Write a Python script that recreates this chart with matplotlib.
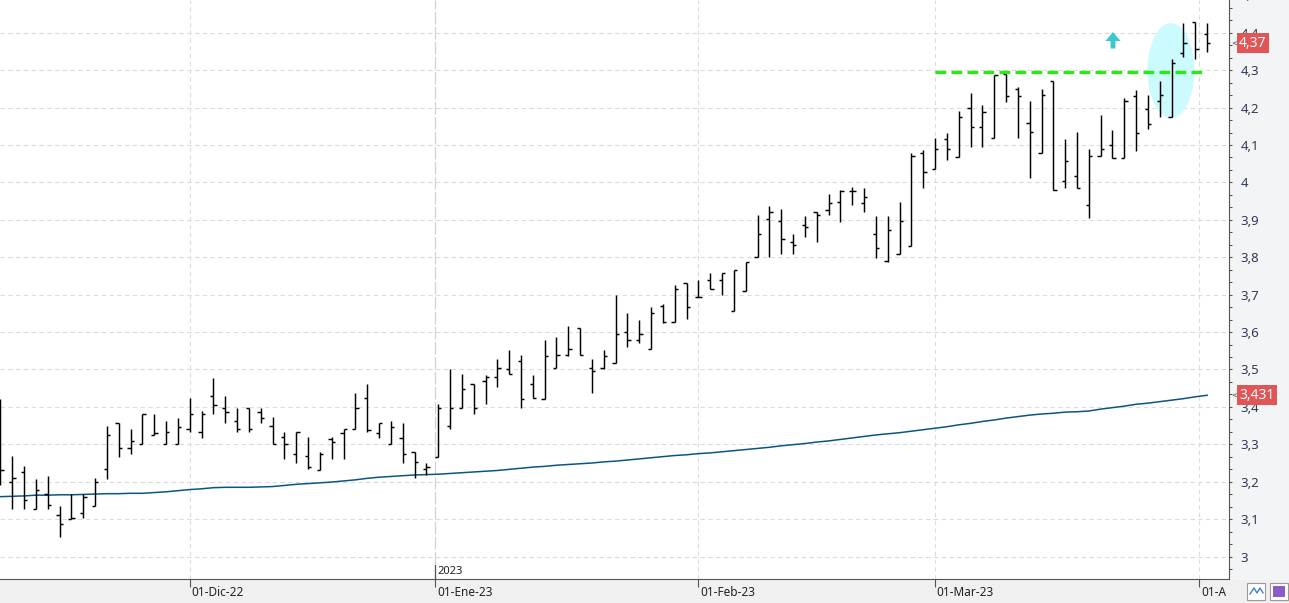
import numpy as np
import matplotlib
matplotlib.use("Agg")
import matplotlib.pyplot as plt
from matplotlib.patches import Ellipse, Rectangle
from matplotlib.ticker import MultipleLocator, FixedLocator, FuncFormatter
import matplotlib.transforms as mtransforms

# daily bars, 09-Nov-22 .. 03-Apr-23 (one entry per session)
opens = [3.30, 3.20, 3.225, 3.128, 3.168, 3.11, 3.099, 3.115, 3.134, 3.235,
         3.358, 3.29, 3.30, 3.324, 3.30, 3.30, 3.34, 3.334, 3.43, 3.396,
         3.361, 3.396, 3.385, 3.35, 3.32, 3.275, 3.27, 3.23, 3.313, 3.329,
         3.34, 3.425, 3.329, 3.30, 3.316, 3.28, 3.235, 3.267, 3.35, 3.396,
         3.46, 3.47, 3.481, 3.50, 3.524, 3.46, 3.42, 3.505, 3.54, 3.61,
         3.505, 3.505, 3.516, 3.599, 3.58, 3.556, 3.671, 3.628, 3.73, 3.693,
         3.74, 3.74, 3.655, 3.711, 3.80, 3.901, 3.896, 3.84, 3.885, 3.92,
         3.925, 3.949, 3.976, 3.944, 3.861, 3.789, 3.81, 3.829, 4.08, 4.035,
         4.115, 4.067, 4.20, 4.147, 4.12, 4.29, 4.251, 4.16, 4.08, 4.27,
         4.005, 4.016, 3.941, 4.07, 4.099, 4.064, 4.23, 4.195, 4.217, 4.174,
         4.345, 4.428, 4.396]
highs = [3.42, 3.27, 3.243, 3.206, 3.214, 3.134, 3.168, 3.168, 3.209, 3.35,
         3.358, 3.34, 3.382, 3.38, 3.361, 3.369, 3.425, 3.388, 3.476, 3.43,
         3.396, 3.396, 3.396, 3.372, 3.334, 3.334, 3.32, 3.28, 3.32, 3.342,
         3.436, 3.46, 3.356, 3.361, 3.356, 3.28, 3.249, 3.409, 3.50, 3.489,
         3.46, 3.484, 3.529, 3.551, 3.54, 3.484, 3.58, 3.586, 3.615, 3.61,
         3.529, 3.551, 3.70, 3.65, 3.631, 3.666, 3.674, 3.725, 3.73, 3.74,
         3.757, 3.759, 3.767, 3.786, 3.914, 3.936, 3.93, 3.861, 3.909, 3.92,
         3.97, 3.98, 3.989, 3.984, 3.909, 3.909, 3.949, 4.08, 4.086, 4.12,
         4.131, 4.19, 4.24, 4.206, 4.286, 4.291, 4.254, 4.219, 4.251, 4.27,
         4.115, 4.136, 4.09, 4.179, 4.139, 4.225, 4.246, 4.235, 4.27, 4.33,
         4.425, 4.428, 4.425]
lows = [3.19, 3.126, 3.128, 3.126, 3.128, 3.051, 3.099, 3.102, 3.134, 3.206,
        3.267, 3.275, 3.30, 3.324, 3.30, 3.30, 3.334, 3.318, 3.38, 3.358,
        3.332, 3.334, 3.356, 3.30, 3.262, 3.251, 3.235, 3.23, 3.262, 3.262,
        3.34, 3.334, 3.316, 3.30, 3.251, 3.211, 3.219, 3.265, 3.34, 3.396,
        3.382, 3.409, 3.452, 3.489, 3.396, 3.425, 3.42, 3.505, 3.535, 3.54,
        3.436, 3.50, 3.516, 3.561, 3.572, 3.556, 3.623, 3.628, 3.634, 3.693,
        3.714, 3.70, 3.655, 3.711, 3.80, 3.802, 3.81, 3.81, 3.853, 3.842,
        3.914, 3.893, 3.941, 3.922, 3.797, 3.786, 3.81, 3.829, 3.984, 4.035,
        4.061, 4.067, 4.096, 4.096, 4.12, 4.214, 4.118, 4.013, 4.08, 3.981,
        3.984, 3.984, 3.906, 4.07, 4.064, 4.064, 4.083, 4.144, 4.176, 4.174,
        4.334, 4.331, 4.348]
closes = [3.23, 3.209, 3.15, 3.179, 3.139, 3.086, 3.104, 3.16, 3.198, 3.324,
          3.289, 3.31, 3.382, 3.33, 3.334, 3.345, 3.38, 3.38, 3.404, 3.385,
          3.34, 3.34, 3.369, 3.30, 3.30, 3.334, 3.24, 3.275, 3.305, 3.342,
          3.396, 3.337, 3.356, 3.345, 3.275, 3.254, 3.24, 3.396, 3.396, 3.449,
          3.396, 3.479, 3.505, 3.489, 3.42, 3.425, 3.535, 3.54, 3.556, 3.54,
          3.495, 3.535, 3.594, 3.58, 3.594, 3.65, 3.628, 3.714, 3.668, 3.693,
          3.714, 3.759, 3.765, 3.786, 3.861, 3.92, 3.85, 3.834, 3.88, 3.914,
          3.944, 3.976, 3.976, 3.96, 3.826, 3.874, 3.896, 4.07, 4.029, 4.09,
          4.09, 4.176, 4.147, 4.187, 4.286, 4.23, 4.23, 4.136, 4.235, 3.981,
          4.056, 3.984, 4.07, 4.09, 4.064, 4.217, 4.131, 4.155, 4.235, 4.32,
          4.372, 4.356, 4.372]
# long moving average
mavg = [3.160, 3.161, 3.162, 3.164, 3.164, 3.165, 3.165, 3.166, 3.167, 3.168,
        3.168, 3.169, 3.169, 3.171, 3.173, 3.176, 3.179, 3.181, 3.184, 3.185,
        3.185, 3.185, 3.186, 3.187, 3.190, 3.193, 3.195, 3.197, 3.199, 3.202,
        3.205, 3.209, 3.212, 3.214, 3.216, 3.218, 3.219, 3.220, 3.222, 3.224,
        3.226, 3.228, 3.230, 3.233, 3.236, 3.239, 3.241, 3.244, 3.246, 3.248,
        3.250, 3.253, 3.255, 3.258, 3.261, 3.264, 3.267, 3.270, 3.272, 3.275,
        3.277, 3.280, 3.283, 3.286, 3.289, 3.292, 3.296, 3.299, 3.302, 3.306,
        3.309, 3.313, 3.317, 3.321, 3.325, 3.328, 3.331, 3.335, 3.339, 3.343,
        3.347, 3.352, 3.356, 3.361, 3.365, 3.370, 3.374, 3.378, 3.381, 3.383,
        3.386, 3.387, 3.389, 3.394, 3.398, 3.402, 3.407, 3.410, 3.414, 3.418,
        3.422, 3.427, 3.431]

month_pos = [16, 36.77, 59, 79, 101.35]
month_labels = ["01-Dic-22", "01-Ene-23", "01-Feb-23", "01-Mar-23", "01-A"]
year_pos = 36.77
year_label = "2023"

resist_level = 4.294
resist_from, resist_to = 79, 102

W, H = 1289, 603
fig = plt.figure(figsize=(W / 100, H / 100), dpi=100)
fig.patches.append(Rectangle((0, 0), 1, 24 / H, transform=fig.transFigure,
                             color="#f0f0f0", zorder=-5))
fig.patches.append(Rectangle((1229 / W, 24 / H), 60 / W, 1, transform=fig.transFigure,
                             color="#f3f4f6", zorder=-5))
ax = fig.add_axes([0, 24 / H, 1229 / W, 579 / H])
ax.set_facecolor("white")

x = np.arange(len(opens))
d = 0.28
ax.vlines(x, lows, highs, color="black", lw=1.05, zorder=4)
ax.hlines(opens, x - d, x, color="black", lw=1.05, zorder=4)
ax.hlines(closes, x, x + d, color="black", lw=1.05, zorder=4)

ax.plot(x, mavg, color="#0b5680", lw=1.1, zorder=3)

# breakout highlight
ax.add_patch(Ellipse((98.94, 4.299), 3.97, 0.254, facecolor="#ccfbfe",
                     edgecolor="none", zorder=1))
ax.plot([resist_from, resist_to], [resist_level, resist_level], color="#22ee11",
        lw=2.4, dashes=(3.2, 1.6), zorder=5)
ax.annotate("", xy=(94.04, 4.402), xytext=(94.04, 4.358),
            arrowprops=dict(width=3.5, headwidth=11, headlength=6.5,
                            color="#3cc8cc", lw=0), zorder=5)

ax.set_xlim(-0.04, -0.04 + 1229 / 11.83)
ax.set_ylim(2.9399, 4.4877)

# grid
for yv in np.arange(3.0, 4.45, 0.1):
    ax.axhline(yv, color="#dcdcdc", lw=0.8, dashes=(4, 3), zorder=0)
for p in month_pos:
    if p == year_pos:
        ax.axvline(p, color="#d2d2d2", lw=0.9, dashes=(10, 2), zorder=0)
    else:
        ax.axvline(p, color="#dcdcdc", lw=0.8, dashes=(4, 3), zorder=0)

# right axis
ax.yaxis.tick_right()
ax.yaxis.set_major_locator(FixedLocator(np.round(np.arange(3.0, 4.45, 0.1), 2)))
ax.yaxis.set_minor_locator(MultipleLocator(0.1 / 3))
ax.yaxis.set_major_formatter(FuncFormatter(lambda v, _: f"{v:g}".replace(".", ",")))
ax.tick_params(axis="y", which="both", direction="out", length=2.5, width=0.8,
               color="#555555", pad=6, labelsize=9.5, labelcolor="#2e3b55")
for lbl in ax.get_yticklabels():
    lbl.set_fontfamily("Noto Sans")
ax.text(1.0, 4.5, "   4,5", transform=mtransforms.blended_transform_factory(ax.transAxes, ax.transData),
        va="center", ha="left", fontsize=9.5, color="#2e3b55", family="Noto Sans", clip_on=False)

# bottom axis
ax.set_xticks(month_pos)
ax.set_xticklabels([])
ax.tick_params(axis="x", direction="out", length=6, width=0.8, color="#555555")
blend = mtransforms.blended_transform_factory(ax.transData, ax.transAxes)
for p, lab in zip(month_pos, month_labels):
    ax.annotate(lab, xy=(p, 0), xycoords=blend, xytext=(1.5, -6.5),
                textcoords="offset pixels", ha="left", va="top", fontsize=8.5,
                color="#222222", family="Noto Sans", annotation_clip=False)
ax.plot([year_pos, year_pos], [0, 14 / 579], transform=blend, color="#555555",
        lw=0.9, clip_on=False, zorder=6)
ax.annotate(year_label, xy=(year_pos, 0), xycoords=blend, xytext=(1.5, 2),
            textcoords="offset pixels", ha="left", va="bottom", fontsize=8,
            color="#222222", family="Noto Sans")

for s in ["left", "top"]:
    ax.spines[s].set_visible(False)
ax.spines["right"].set_color("#555555")
ax.spines["bottom"].set_color("#555555")

# last-value markers
yblend = mtransforms.blended_transform_factory(ax.transAxes, ax.transData)
for val, txt in [(closes[-1], "4,37"), (mavg[-1], "3,431")]:
    ax.annotate(txt, xy=(1.0, val), xycoords=yblend, xytext=(10, 0),
                textcoords="offset pixels", ha="left", va="center", fontsize=10,
                color="white", family="Noto Sans", annotation_clip=False, zorder=10,
                bbox=dict(boxstyle="square,pad=0.18", fc="#e05555", ec="none"))
    ax.annotate("<", xy=(1.0, val), xycoords=yblend, xytext=(2, 0),
                textcoords="offset pixels", ha="left", va="center", fontsize=6,
                color="#555555", annotation_clip=False)

# small toolbar icons
for x0 in (1247, 1270):
    fig.patches.append(Rectangle((x0 / W, 3 / H), 18 / W, 17 / H, transform=fig.transFigure,
                                 facecolor="white", edgecolor="#999999", lw=0.8))
fig.add_artist(plt.Line2D(np.array([1250, 1254, 1257, 1260, 1263]) / W,
                          np.array([9, 15, 10, 15, 10]) / H, color="#4a7cc0", lw=1))
fig.patches.append(Rectangle((1273 / W, 6 / H), 12 / W, 11 / H, transform=fig.transFigure,
                             facecolor="#8a5cc8", edgecolor="none"))

fig.savefig("out.png", dpi=100)
